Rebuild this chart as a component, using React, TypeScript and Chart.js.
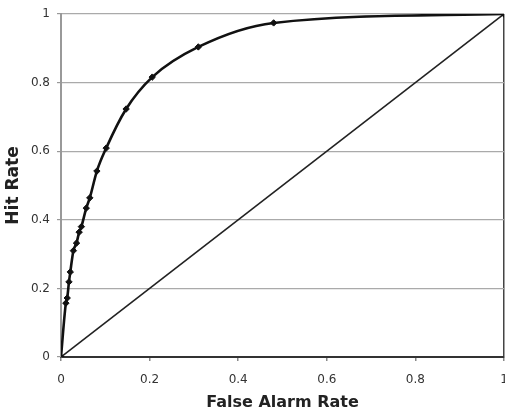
import React, { useEffect, useRef } from "react";
import { Chart, registerables } from "chart.js";

Chart.register(...registerables);

const falseAlarm = [0, 0.011, 0.014, 0.018, 0.021, 0.028, 0.035, 0.041, 0.046, 0.057, 0.065, 0.081, 0.102, 0.147, 0.206, 0.31, 0.48, 1];
const hitRate = [0, 0.157, 0.172, 0.219, 0.248, 0.31, 0.332, 0.364, 0.38, 0.434, 0.464, 0.542, 0.609, 0.723, 0.816, 0.904, 0.974, 1];
const chanceX = [0, 1];
const chanceY = [0, 1];
const tickValues = [0, 0.2, 0.4, 0.6, 0.8, 1];
const xTitle = "False Alarm Rate";
const yTitle = "Hit Rate";

export default function App() {
  const ref = useRef<HTMLCanvasElement | null>(null);
  useEffect(() => {
    if (!ref.current) return;
    const font = "'DejaVu Sans', Arial, sans-serif";
    const chart = new Chart(ref.current, {
      type: "scatter",
      data: {
        datasets: [
          {
            data: falseAlarm.map((x, i) => ({ x, y: hitRate[i] })),
            showLine: true,
            borderColor: "#111",
            backgroundColor: "#111",
            borderWidth: 2.6,
            cubicInterpolationMode: "monotone",
            pointStyle: "rectRot",
            pointRadius: 3.2,
            pointBorderWidth: 1,
            pointBorderColor: "#111",
          },
          {
            data: chanceX.map((x, i) => ({ x, y: chanceY[i] })),
            showLine: true,
            borderColor: "#222",
            borderWidth: 1.6,
            pointRadius: 0,
          },
        ],
      },
      options: {
        responsive: false,
        animation: false,
        layout: { padding: { top: 14, right: 0, left: 0, bottom: 0 } },
        plugins: { legend: { display: false }, tooltip: { enabled: false } },
        scales: {
          x: {
            type: "linear",
            min: 0,
            max: 1,
            afterBuildTicks: (s: any) => {
              s.ticks = tickValues.map((v) => ({ value: v }));
            },
            afterFit: (s: any) => {
              s.height = 58;
              s.paddingLeft = 0;
              s.paddingRight = 0;
            },
            ticks: {
              color: "#333",
              font: { family: font, size: 12 },
              padding: 12,
              maxRotation: 0,
              callback: (v: any) => String(v),
            },
            grid: {
              color: (c: any) => (c.tick && c.tick.value === 1 ? "#444" : "rgba(0,0,0,0)"),
              tickColor: "#888",
              tickLength: 4,
              lineWidth: 1.5,
            },
            border: { color: "#333", width: 2 },
            title: {
              display: true,
              text: xTitle,
              color: "#222",
              font: { family: font, size: 16, weight: "bold" },
              padding: { top: 2, bottom: 3 },
            },
          },
          y: {
            type: "linear",
            min: 0,
            max: 1,
            afterBuildTicks: (s: any) => {
              s.ticks = tickValues.map((v) => ({ value: v }));
            },
            afterFit: (s: any) => {
              s.width = 61;
              s.paddingTop = 0;
              s.paddingBottom = 0;
            },
            ticks: {
              color: "#333",
              font: { family: font, size: 12 },
              padding: 7,
              callback: (v: any) => String(v),
            },
            grid: {
              color: "#aaa",
              tickColor: "#999",
              tickLength: 4,
              lineWidth: 1.2,
            },
            border: { color: "#999", width: 2 },
            title: {
              display: true,
              text: yTitle,
              color: "#222",
              font: { family: font, size: 17, weight: "bold" },
              padding: { top: 3, bottom: 4 },
            },
          },
        },
      },
    });
    return () => chart.destroy();
  }, []);
  return (
    <div style={{ position: "fixed", left: 0, top: 0, width: 505, height: 415, overflow: "hidden", background: "#fff" }}>
      <canvas ref={ref} width={509} height={415} style={{ width: 509, height: 415, display: "block" }} />
    </div>
  );
}
